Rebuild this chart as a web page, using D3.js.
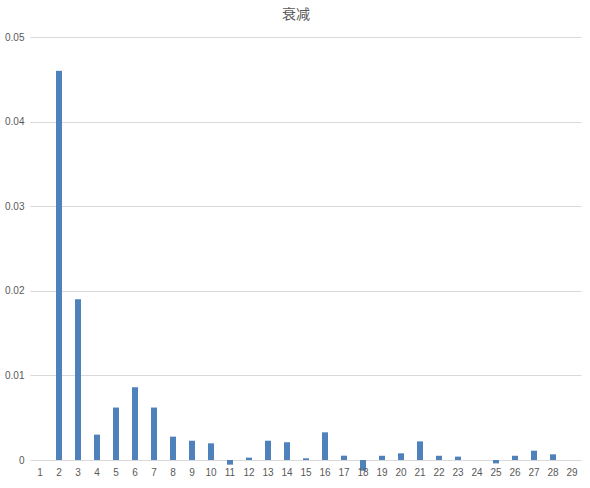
<!DOCTYPE html>
<html>
<head>
<meta charset="utf-8">
<script src="https://cdn.jsdelivr.net/npm/d3@7"></script>
<style>
  body { margin: 0; background: #fff; }
  text { font-family: "Liberation Sans", "Noto Sans CJK SC", sans-serif; }
</style>
</head>
<body>
<svg id="chart"></svg>
<script>
const title = '衰减';
const categories = d3.range(1, 30).map(String);
const values = [
    0, 0.0460, 0.0190, 0.0030, 0.0062, 0.0086, 0.0062, 0.00276, 0.00228, 0.00197,
    -0.00055, 0.00028, 0.00228, 0.0021, 0.0002, 0.00327, 0.00051, -0.00126, 0.0005, 0.00079,
    0.0022, 0.0005, 0.0004, 0, -0.0004, 0.0005, 0.0011, 0.00067, 0
];
const yTicks = [0, 0.01, 0.02, 0.03, 0.04, 0.05];

const width = 590, height = 488;
const margin = { top: 37, right: 8.5, bottom: 28, left: 30.5 };
const innerW = width - margin.left - margin.right;
const innerH = height - margin.top - margin.bottom;

const svg = d3.select('#chart').attr('width', width).attr('height', height);

svg.append('text')
    .attr('x', 296)
    .attr('y', 19)
    .attr('text-anchor', 'middle')
    .attr('fill', '#595959')
    .attr('font-size', 14)
    .text(title);

const g = svg.append('g').attr('transform', `translate(${margin.left},${margin.top})`);

const x = d3.scaleBand().domain(categories).range([0, innerW]);
const y = d3.scaleLinear().domain([0, 0.05]).range([innerH, 0]);

// gridlines
g.selectAll('line.grid')
    .data(yTicks)
    .join('line')
    .attr('class', 'grid')
    .attr('x1', 0)
    .attr('x2', innerW)
    .attr('y1', d => Math.round(y(d)) + 0.5)
    .attr('y2', d => Math.round(y(d)) + 0.5)
    .attr('stroke', '#d9d9d9')
    .attr('stroke-width', 1);

// y labels
g.selectAll('text.ylab')
    .data(yTicks)
    .join('text')
    .attr('class', 'ylab')
    .attr('x', -6)
    .attr('y', d => y(d))
    .attr('dy', '0.35em')
    .attr('text-anchor', 'end')
    .attr('fill', '#595959')
    .attr('font-size', 10)
    .text(d => d === 0 ? '0' : d3.format('.2f')(d));

// bars
const barW = 6;
g.selectAll('rect.bar')
    .data(values)
    .join('rect')
    .attr('class', 'bar')
    .attr('x', (d, i) => x(categories[i]) + x.bandwidth() / 2 - barW / 2)
    .attr('y', d => y(Math.max(0, d)))
    .attr('width', barW)
    .attr('height', d => Math.abs(y(d) - y(0)))
    .attr('fill', '#4f81bd');

// x labels
g.selectAll('text.xlab')
    .data(categories)
    .join('text')
    .attr('class', 'xlab')
    .attr('x', d => x(d) + x.bandwidth() / 2)
    .attr('y', innerH + 16)
    .attr('text-anchor', 'middle')
    .attr('fill', '#595959')
    .attr('font-size', 10)
    .text(d => d);
</script>
</body>
</html>
